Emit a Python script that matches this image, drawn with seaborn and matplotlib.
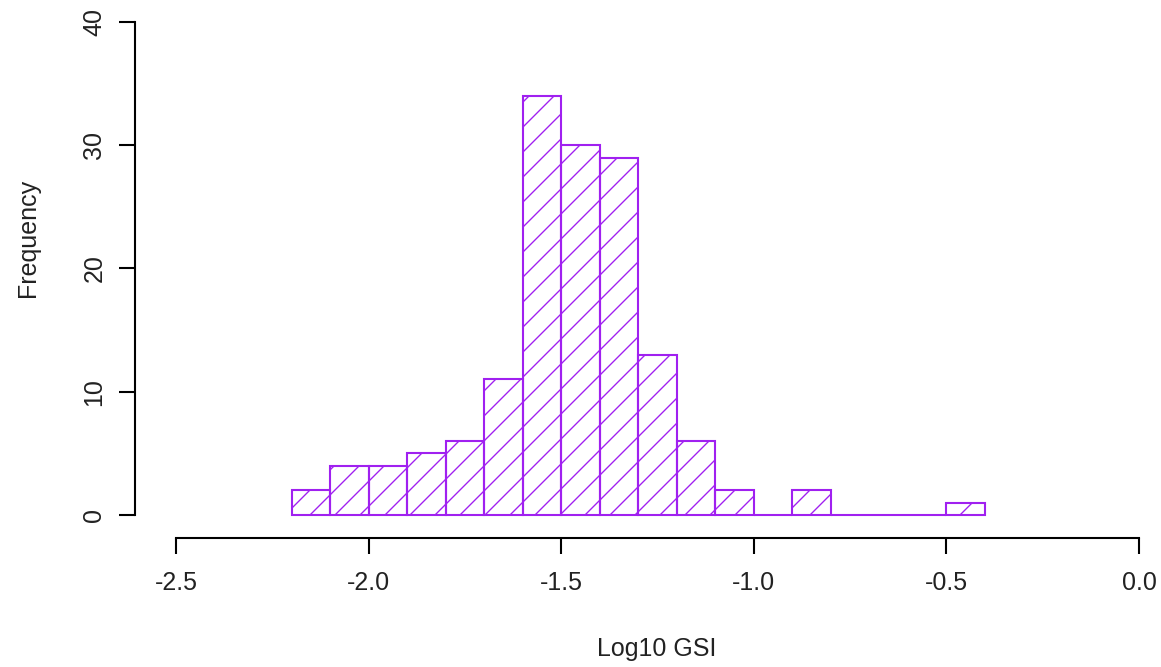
import numpy as np
import pandas as pd
import matplotlib
matplotlib.use("Agg")
import matplotlib.pyplot as plt
import seaborn as sns

# histogram of log10 GSI, bins of width 0.1 from -2.2 to -0.4
bin_edges = [-2.2, -2.1, -2.0, -1.9, -1.8, -1.7, -1.6, -1.5, -1.4, -1.3,
             -1.2, -1.1, -1.0, -0.9, -0.8, -0.7, -0.6, -0.5, -0.4]
bin_counts = [2, 4, 4, 5, 6, 11, 34, 30, 29, 13, 6, 2, 0, 2, 0, 0, 0, 1]
x_ticks = [-2.5, -2.0, -1.5, -1.0, -0.5, 0.0]
y_ticks = [0, 10, 20, 30, 40]

PURPLE = "#a020f0"
W, H, DPI = 1161, 667, 150


def main():
    sns.set_style("ticks")
    plt.rcParams["font.family"] = ["Liberation Sans", "DejaVu Sans"]
    plt.rcParams["hatch.linewidth"] = 0.65

    centers = [(a + b) / 2 for a, b in zip(bin_edges[:-1], bin_edges[1:])]
    df = pd.DataFrame({"gsi": centers, "n": bin_counts})

    fig = plt.figure(figsize=(W / DPI, H / DPI), dpi=DPI)
    # axes box in pixels: left 135, right 1161, top 2, bottom 538
    ax_w = W - 135
    ax_h = 538 - 2
    ax = fig.add_axes([135 / W, (H - 538) / H, ax_w / W, ax_h / H])

    sns.histplot(data=df, x="gsi", weights="n", bins=bin_edges, fill=False,
                 color=PURPLE, hatch="//", linewidth=1.0, ax=ax)

    ax.set_xlim(-2.6064, 0.0571)
    ax.set_ylim(-1.866, 41.62)

    for side in ["top", "right"]:
        ax.spines[side].set_visible(False)
    ax.spines["left"].set_bounds(0, 40)
    ax.spines["bottom"].set_bounds(-2.5, 0)
    for side in ["left", "bottom"]:
        ax.spines[side].set_color("black")
        ax.spines[side].set_linewidth(1.0)

    ax.set_xticks(x_ticks)
    ax.set_xticklabels([f"{v:.1f}" for v in x_ticks])
    ax.set_yticks(y_ticks)
    ax.set_yticklabels([str(v) for v in y_ticks], rotation=90, va="center")
    ax.tick_params(direction="out", length=7.7, width=1.0, colors="black",
                   labelsize=12)
    ax.tick_params(axis="x", pad=8)
    ax.tick_params(axis="y", pad=6)
    for lab in ax.get_xticklabels() + ax.get_yticklabels():
        lab.set_color("#222222")

    ax.set_xlabel("Log10 GSI", fontsize=12, color="#222222")
    ax.set_ylabel("Frequency", fontsize=12, color="#222222")
    ax.xaxis.set_label_coords((657 - 135) / ax_w, -(649 - 538) / ax_h)
    ax.yaxis.set_label_coords(-(135 - 28) / ax_w, (538 - 238) / ax_h)
    ax.xaxis.label.set_va("center")
    ax.yaxis.label.set_va("center")

    fig.savefig("out.png", dpi=DPI)


if __name__ == "__main__":
    main()
